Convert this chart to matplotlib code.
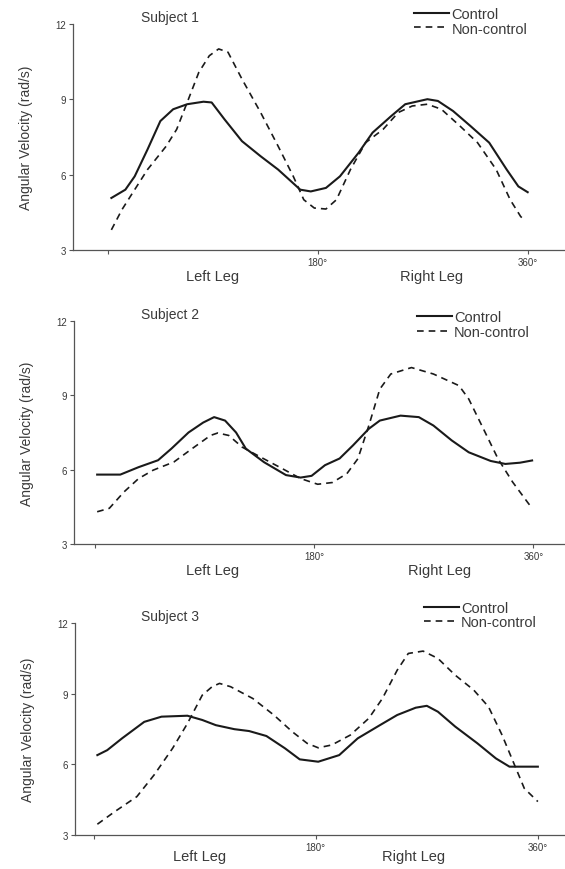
import matplotlib
matplotlib.use('Agg')
import matplotlib.pyplot as plt
from matplotlib.transforms import blended_transform_factory

# Subject 1
s1_ctrl_deg = [3, 15, 23, 34, 45, 56, 68, 82, 89, 100, 115, 131, 146, 165, 174, 187, 199, 215, 227, 243, 255, 274, 283, 296, 311, 327, 342, 352, 360]
s1_ctrl_val = [5.07, 5.4, 5.93, 7.0, 8.13, 8.6, 8.8, 8.9, 8.87, 8.2, 7.33, 6.73, 6.2, 5.4, 5.33, 5.47, 5.93, 6.87, 7.67, 8.33, 8.8, 9.0, 8.93, 8.53, 7.93, 7.27, 6.2, 5.53, 5.3]
s1_non_deg = [3, 12, 22, 34, 50, 59, 68, 78, 87, 95, 103, 115, 131, 146, 159, 168, 177, 187, 196, 208, 221, 236, 249, 261, 274, 286, 302, 317, 333, 345, 354, 357]
s1_non_val = [3.8, 4.6, 5.33, 6.2, 7.13, 7.8, 8.87, 10.07, 10.73, 11.0, 10.87, 9.8, 8.47, 7.13, 5.93, 5.0, 4.67, 4.63, 5.0, 6.2, 7.27, 7.8, 8.47, 8.73, 8.8, 8.6, 7.93, 7.27, 6.2, 5.0, 4.33, 4.2]

# Subject 2
s2_ctrl_deg = [2, 21, 36, 52, 63, 77, 89, 98, 107, 116, 124, 139, 157, 169, 178, 189, 201, 212, 225, 234, 251, 266, 278, 293, 307, 325, 337, 349, 359]
s2_ctrl_val = [5.8, 5.8, 6.1, 6.38, 6.85, 7.5, 7.9, 8.12, 7.98, 7.5, 6.85, 6.3, 5.78, 5.68, 5.75, 6.18, 6.45, 6.98, 7.65, 7.98, 8.18, 8.12, 7.78, 7.18, 6.7, 6.35, 6.23, 6.28, 6.37]
s2_non_deg = [2, 12, 24, 36, 48, 65, 80, 95, 101, 110, 121, 136, 154, 169, 183, 195, 207, 216, 225, 234, 243, 260, 278, 299, 307, 319, 331, 343, 355, 359]
s2_non_val = [4.3, 4.44, 5.1, 5.64, 5.98, 6.31, 6.85, 7.38, 7.48, 7.38, 6.91, 6.51, 6.04, 5.64, 5.41, 5.48, 5.84, 6.44, 7.78, 9.25, 9.86, 10.12, 9.86, 9.39, 8.85, 7.65, 6.44, 5.5, 4.7, 4.44]

# Subject 3
s3_ctrl_deg = [3, 11, 23, 41, 55, 76, 88, 99, 114, 126, 140, 155, 167, 182, 199, 214, 232, 246, 261, 270, 279, 293, 311, 326, 337, 346, 360]
s3_ctrl_val = [6.39, 6.6, 7.1, 7.8, 8.02, 8.06, 7.88, 7.66, 7.49, 7.41, 7.2, 6.68, 6.21, 6.11, 6.39, 7.1, 7.66, 8.09, 8.4, 8.48, 8.23, 7.6, 6.89, 6.25, 5.9, 5.9, 5.9]
s3_non_deg = [3, 17, 35, 49, 64, 76, 88, 96, 102, 111, 129, 146, 161, 173, 182, 193, 208, 223, 234, 246, 255, 267, 279, 293, 308, 320, 331, 340, 349, 360]
s3_non_val = [3.46, 3.99, 4.63, 5.55, 6.68, 7.73, 8.93, 9.29, 9.43, 9.29, 8.79, 8.09, 7.38, 6.89, 6.7, 6.82, 7.24, 7.95, 8.79, 9.99, 10.7, 10.8, 10.49, 9.78, 9.15, 8.44, 7.24, 6.11, 4.98, 4.42]

y_ticks = [3, 6, 9, 12]
x_ticks = [0, 180, 360]
x_tick_labels = ['', '180°', '360°']
titles = ['Subject 1', 'Subject 2', 'Subject 3']

TXT = '#3a3a3a'
LINE = '#1a1a1a'

plt.rcParams['font.family'] = ['Liberation Sans', 'DejaVu Sans']

fig = plt.figure(figsize=(5.65, 8.7), dpi=100)

# axes boxes (left, bottom, width, height) and x ranges, per panel
boxes = [(0.129, 0.7115, 0.871, 0.260),
         (0.131, 0.3736, 0.869, 0.2563),
         (0.133, 0.0390, 0.867, 0.2440)]
xlims = [(-30, 392), (-17, 386), (-15, 382)]
leg_pos = [(0.733, 0.991), (0.738, 0.642), (0.750, 0.3085)]
leg_x_deg = [(90, 278), (97, 283), (86, 259)]
leg_y = [-0.115, -0.115, -0.098]
title_deg = [53, 62, 62]

data = [(s1_ctrl_deg, s1_ctrl_val, s1_non_deg, s1_non_val),
        (s2_ctrl_deg, s2_ctrl_val, s2_non_deg, s2_non_val),
        (s3_ctrl_deg, s3_ctrl_val, s3_non_deg, s3_non_val)]

for i in range(3):
    ax = fig.add_axes(boxes[i])
    cd, cv, nd, nv = data[i]
    ax.plot(cd, cv, color=LINE, lw=1.5, label='Control')
    ax.plot(nd, nv, color=LINE, lw=1.2, ls=(0, (4, 3)), label='Non-control')

    ax.set_xlim(*xlims[i])
    ax.set_ylim(3, 12)
    ax.set_yticks(y_ticks)
    ax.set_xticks(x_ticks)
    ax.set_xticklabels(x_tick_labels)
    ax.tick_params(axis='both', colors='#555555', labelcolor=TXT, labelsize=7,
                   length=3, width=0.8, pad=2)
    for side in ['top', 'right']:
        ax.spines[side].set_visible(False)
    for side in ['left', 'bottom']:
        ax.spines[side].set_color('#555555')
        ax.spines[side].set_linewidth(0.9)
    ax.patch.set_alpha(0)

    ax.set_ylabel('Angular Velocity (rad/s)', fontsize=10, color=TXT, labelpad=16)

    tr = blended_transform_factory(ax.transData, ax.transAxes)
    ax.text(leg_x_deg[i][0], leg_y[i], 'Left Leg', transform=tr, ha='center', va='center',
            fontsize=10.5, color=TXT)
    ax.text(leg_x_deg[i][1], leg_y[i], 'Right Leg', transform=tr, ha='center', va='center',
            fontsize=10.5, color=TXT)
    ax.text(title_deg[i], 1.03, titles[i], transform=tr, ha='center', va='center',
            fontsize=10, color=TXT)

    leg = ax.legend(loc='upper left', bbox_to_anchor=leg_pos[i], bbox_transform=fig.transFigure,
                    frameon=False, fontsize=10.5, handlelength=2.4, handletextpad=0.15,
                    labelspacing=0.05, borderpad=0, borderaxespad=0)
    for t in leg.get_texts():
        t.set_color(TXT)

fig.savefig('out.png', dpi=100)
